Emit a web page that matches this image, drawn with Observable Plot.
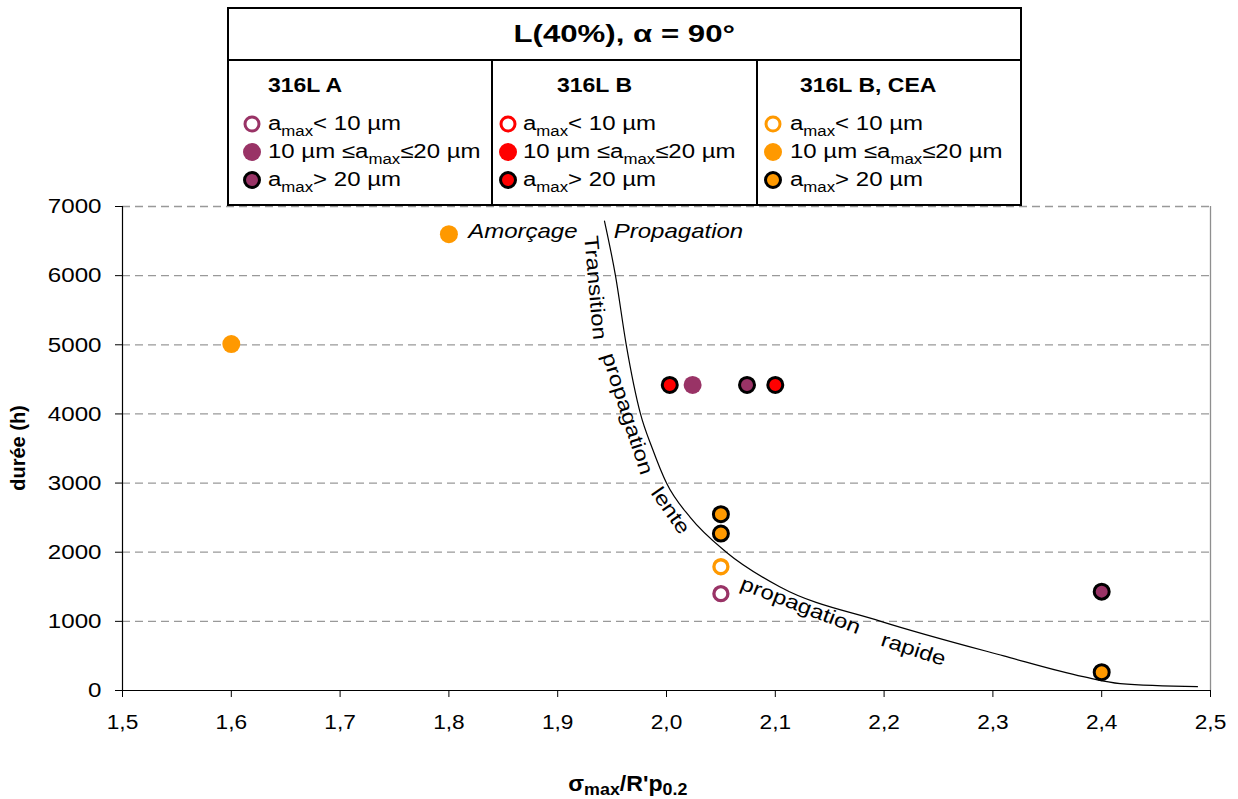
<!DOCTYPE html>
<html>
<head>
<meta charset="utf-8">
<script src="https://cdn.jsdelivr.net/npm/d3@7"></script>
<script src="https://cdn.jsdelivr.net/npm/@observablehq/plot@0.6"></script>
<style>
  body { margin: 0; background: #fff; font-family: "Liberation Sans", Arial, sans-serif; }
  #wrap { position: relative; width: 1238px; height: 799px; overflow: hidden; }
  #chart { position: absolute; left: 0; top: 0; }
  #legend { position: absolute; left: 227px; top: 7px; width: 795px; height: 199px;
            border: 2px solid #000; box-sizing: border-box; background: #fff; }
  #legend .hline { position: absolute; left: 0; right: 0; top: 50px; height: 2px; background: #000; }
  #legend .vline { position: absolute; top: 51px; bottom: 0; width: 2px; background: #000; }
  #legend .title { position: absolute; left: 0; right: 0; top: 0; height: 50px; line-height: 50px;
                   text-align: center; font-weight: bold; font-size: 24px; }
  .sx { display: inline-block; white-space: nowrap; transform-origin: left center; }
  .head { position: absolute; font-weight: bold; font-size: 20px; line-height: 22px; }
  .item { position: absolute; font-size: 20px; line-height: 24px; }
  .item sub { font-size: 14px; vertical-align: -6px; line-height: 0; }
  .mk { position: absolute; border-radius: 50%; box-sizing: border-box; transform: translate(-50%, -50%); }
  #ylab { position: absolute; left: 18px; top: 448px; transform: translate(-50%, -50%) rotate(-90deg);
          font-weight: bold; font-size: 20px; white-space: nowrap; }
  #xlab { position: absolute; left: 625px; top: 771px; transform: translateX(-50%);
          font-weight: bold; font-size: 22px; white-space: nowrap; }
  #xlab sub { font-size: 17px; vertical-align: -4px; line-height: 0; }
</style>
</head>
<body>
<div id="wrap">
  <div id="chart"></div>
  <div id="legend"></div>
  <div id="ylab">durée (h)</div>
  <div id="xlab"><span class="sx" style="transform:scaleX(1.05)">σ<sub>max</sub>/R'p<sub>0.2</sub></span></div>
</div>
<script>
// ---------- data ----------
const alloyNames  = ["316L A", "316L B", "316L B, CEA"];
const alloyColors = ["#993366", "#ff0000", "#ff9900"];
const sizeClasses = ["<10", "10-20", ">20"];

const pointX     = [1.8, 1.6, 2.003, 2.024, 2.074, 2.1, 2.05, 2.05, 2.05, 2.05, 2.4, 2.4];
const pointY     = [6600, 5010, 4420, 4420, 4420, 4420, 2550, 2270, 1790, 1400, 1430, 265];
const pointAlloy = ["316L B, CEA", "316L B, CEA", "316L B", "316L A", "316L A", "316L B",
                    "316L B, CEA", "316L B, CEA", "316L B, CEA", "316L A", "316L A", "316L B, CEA"];
const pointSize  = ["10-20", "10-20", ">20", "10-20", ">20", ">20", ">20", ">20", "<10", "<10", ">20", ">20"];

const curveX = [1.943, 1.9531, 1.963, 1.9761, 1.987, 2.0, 2.022, 2.055, 2.104, 2.197, 2.31, 2.383, 2.417, 2.488];
const curveY = [6790, 6000, 5000, 4000, 3500, 3000, 2500, 2000, 1500, 1000, 500, 200, 100, 55];

const regionText   = ["Amorçage", "Propagation"];
const regionX      = [1.868, 2.011];
const regionY      = [6630, 6630];

const curveText    = ["Transition", "propagation", "lente", "propagation", "rapide"];
const curveTextX   = [1.9345, 1.9641, 2.0037, 2.1232, 2.227];
const curveTextY   = [5824, 4003, 2601, 1228, 593];
const curveTextRot = [85, 72, 55, 21, 18];

const xTicks = [1.5, 1.6, 1.7, 1.8, 1.9, 2.0, 2.1, 2.2, 2.3, 2.4, 2.5];
const yTicks = [0, 1000, 2000, 3000, 4000, 5000, 6000, 7000];

const titleText = "L(40%), α = 90°";

// ---------- tables ----------
const points = pointX.map((x, i) => ({x, y: pointY[i], alloy: pointAlloy[i], size: pointSize[i]}));
const curve = curveX.map((x, i) => ({x, y: curveY[i]}));
const regions = regionText.map((t, i) => ({t, x: regionX[i], y: regionY[i]}));
const cLabels = curveText.map((t, i) => ({t, x: curveTextX[i], y: curveTextY[i], r: curveTextRot[i]}));

const chart = Plot.plot({
  width: 1238,
  height: 799,
  marginLeft: 122,
  marginRight: 28,
  marginTop: 206,
  marginBottom: 109,
  style: {fontFamily: "'Liberation Sans', Arial, sans-serif", background: "transparent", color: "#000"},
  x: {domain: [1.5, 2.5]},
  y: {domain: [0, 7000]},
  color: {domain: alloyNames, range: alloyColors},
  marks: [
    Plot.ruleY(yTicks.filter(d => d > 0), {stroke: "#999", strokeWidth: 1.3, strokeDasharray: "8,5"}),
    Plot.ruleX([2.5], {stroke: "#8f8f8f", strokeWidth: 1.3}),
    Plot.ruleX([1.5], {stroke: "#000", strokeWidth: 1.2}),
    Plot.ruleY([0], {stroke: "#000", strokeWidth: 1.2}),
    Plot.axisX({ticks: xTicks, tickFormat: d => d.toFixed(1).replace(".", ","), tickSize: 7,
                tickPadding: 17, fontSize: 21, label: null, stroke: "#000"}),
    Plot.axisY({ticks: yTicks, tickFormat: d => String(d), tickSize: 7, tickPadding: 14,
                fontSize: 21, label: null, stroke: "#000"}),
    Plot.line(curve, {x: "x", y: "y", curve: "monotone-x", stroke: "#000", strokeWidth: 1.2}),
    Plot.text(regions, {x: "x", y: "y", text: "t", fontSize: 20, fontStyle: "italic", fill: "#000"}),
    Plot.text(cLabels, {x: "x", y: "y", text: "t", rotate: "r", fontSize: 20, fill: "#000"}),
    Plot.dot(points.filter(d => d.size === "<10"), {x: "x", y: "y", r: 7, fill: "white", stroke: "alloy", strokeWidth: 3.3}),
    Plot.dot(points.filter(d => d.size === "10-20"), {x: "x", y: "y", r: 9, fill: "alloy", stroke: null}),
    Plot.dot(points.filter(d => d.size === ">20"), {x: "x", y: "y", r: 7.5, fill: "alloy", stroke: "#000", strokeWidth: 3})
  ]
});
document.getElementById("chart").appendChild(chart);

// horizontal stretch of text to mimic the wide rendering of the original
function stretch(nodes, s) {
  nodes.forEach(t => {
    const tr = t.getAttribute("transform");
    if (tr) t.setAttribute("transform", tr + ` scale(${s},1)`);
    else {
      const x = t.getAttribute("x") || 0, y = t.getAttribute("y") || 0;
      t.removeAttribute("x"); t.removeAttribute("y");
      t.setAttribute("transform", `translate(${x},${y}) scale(${s},1)`);
    }
  });
}
stretch(chart.querySelectorAll('g[aria-label="y-axis tick label"] text'), 1.15);
stretch(chart.querySelectorAll('g[aria-label="x-axis tick label"] text'), 1.08);
stretch(chart.querySelectorAll('g[aria-label="text"] text'), 1.2);

// ---------- legend ----------
const legend = document.getElementById("legend");
const colLeft = [0, 262, 527];
const headLeft = [39, 328, 571];
const markLeft = [23, 279, 544];
const textLeft = [39, 294, 561];
const itemTop = [115, 143, 171];
let html = `<div class="title"><span class="sx" style="transform:scaleX(1.3);transform-origin:center">${titleText}</span></div><div class="hline"></div>`;
html += `<div class="vline" style="left:${colLeft[1]}px"></div><div class="vline" style="left:${colLeft[2]}px"></div>`;
const itemLabels = ["a<sub>max</sub>&lt; 10 µm", "10 µm ≤a<sub>max</sub>≤20 µm", "a<sub>max</sub>&gt; 20 µm"];
alloyNames.forEach((name, c) => {
  const col = alloyColors[c];
  html += `<div class="head" style="left:${headLeft[c]}px;top:65px"><span class="sx" style="transform:scaleX(1.15)">${name}</span></div>`;
  sizeClasses.forEach((s, k) => {
    let style;
    if (s === "<10") style = `width:17px;height:17px;border:3.3px solid ${col};background:#fff;`;
    else if (s === "10-20") style = `width:18px;height:18px;background:${col};`;
    else style = `width:18px;height:18px;border:3px solid #000;background:${col};`;
    html += `<div class="mk" style="left:${markLeft[c]}px;top:${itemTop[k]}px;${style}"></div>`;
    html += `<div class="item" style="left:${textLeft[c]}px;top:${itemTop[k] - 13}px"><span class="sx" style="transform:scaleX(1.2)">${itemLabels[k]}</span></div>`;
  });
});
legend.innerHTML = html;
</script>
</body>
</html>
